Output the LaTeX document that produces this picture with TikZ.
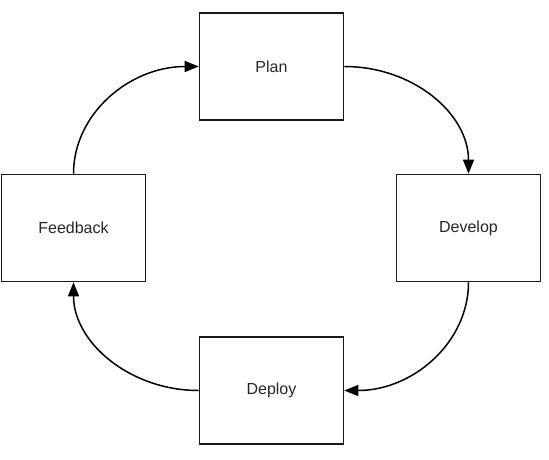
\documentclass[tikz,border=0pt]{standalone}
\usepackage{fontspec}
\setmainfont{Liberation Sans}
\usetikzlibrary{arrows.meta}
\begin{document}
\begin{tikzpicture}[x=1pt,y=-1pt,
  stagebox/.style={draw=black!90, line width=1.6pt, minimum width=144pt, minimum height=107pt, inner sep=0pt, font=\fontsize{16}{19}\selectfont, text=black!85},
  flow/.style={line width=1.5pt, -{Triangle[length=14pt,width=11pt]}}]
\useasboundingbox (0,0) rectangle (549,460);
\node[stagebox] (plan) at (271.5,66.5) {Plan};
\node[stagebox] (dev) at (468.5,228) {Develop};
\node[stagebox] (dep) at (271.5,390.5) {Deploy};
\node[stagebox] (fb) at (73.5,228) {Feedback};
\draw[flow] (plan.east) .. controls +(69,0) and +(0,-60) .. (dev.north);
\draw[flow] (dev.south) .. controls +(0,60) and +(69,0) .. (dep.east);
\draw[flow] (dep.west) .. controls +(-69,0) and +(0,60) .. (fb.south);
\draw[flow] (fb.north) .. controls +(0,-60) and +(-69,0) .. (plan.west);
\end{tikzpicture}
\end{document}
